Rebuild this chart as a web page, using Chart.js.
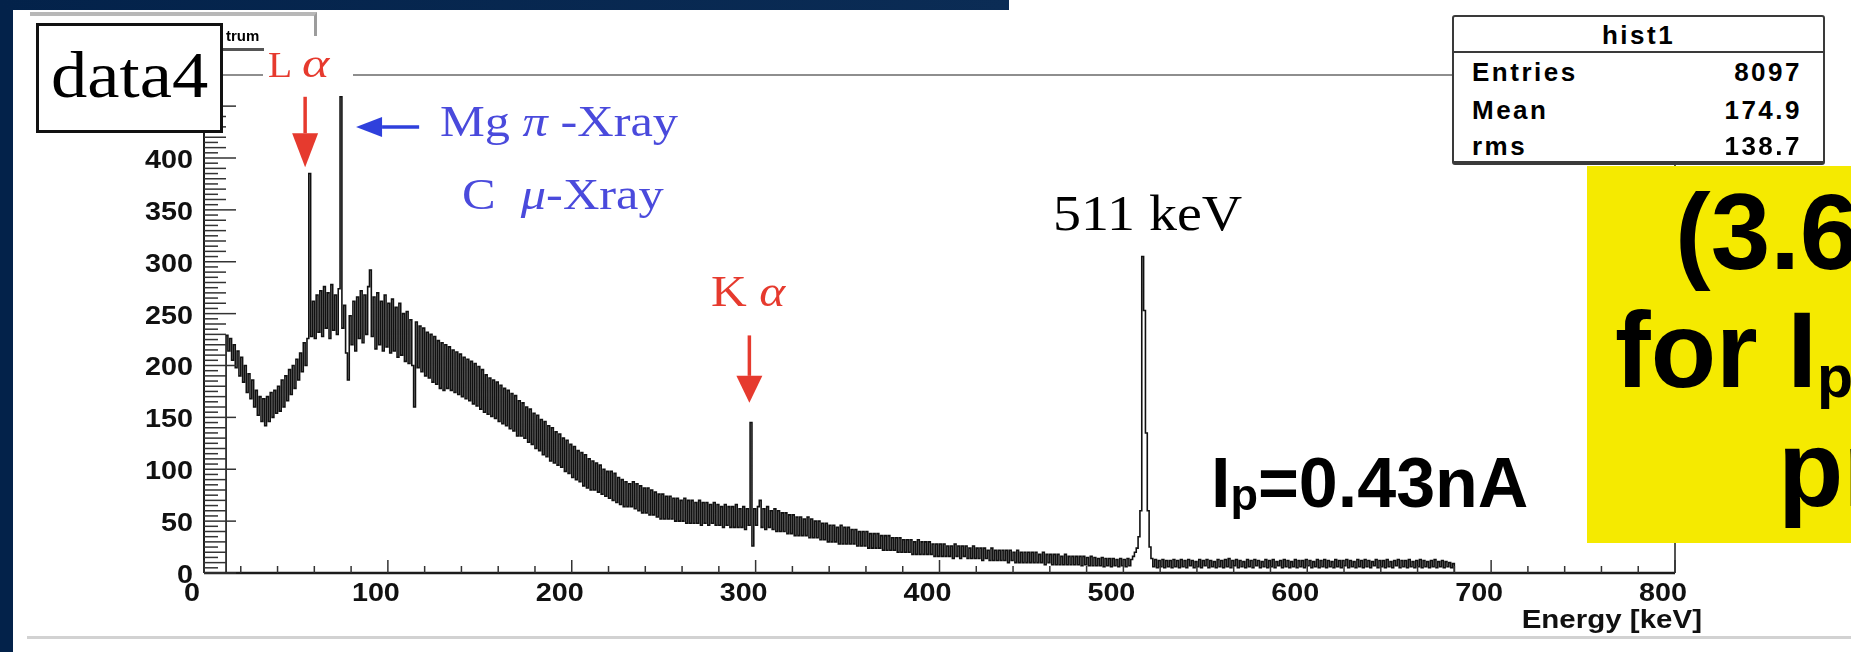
<!DOCTYPE html>
<html lang="en">
<head>
    <meta charset="UTF-8">
    <title>hist1 - Energy spectrum (data4)</title>
    <script src="https://cdn.jsdelivr.net/npm/chart.js@4.4.0/dist/chart.umd.min.js"></script>
    <style>
        body {
            margin: 0;
            width: 1851px;
            height: 652px;
            overflow: hidden;
            position: relative;
            background: #fff;
            font-family: 'Liberation Sans', Arial, sans-serif;
        }
        .navy-left { position: absolute; left: 0; top: 0; width: 13px; height: 652px; background: #03224a; }
        .navy-top { position: absolute; left: 0; top: 0; width: 1009px; height: 10px; background: linear-gradient(90deg, #03224a, #0b2c55); }
        #spectrum { position: absolute; left: 0; top: 0; }
        .ann { position: absolute; white-space: nowrap; line-height: 1; transform-origin: 0 0; }
        .serif { font-family: 'Liberation Serif', 'Times New Roman', serif; }
        .red { color: #e63a2e; }
        .blue { color: #4a4adc; }
        .bold { font-weight: bold; }
        .title-pave { position: absolute; left: 30px; top: 12px; width: 284px; height: 20px; border-top: 4px solid #b8b8b8; border-right: 3px solid #9c9c9c; }
        .data-box { position: absolute; left: 36px; top: 23px; width: 187px; height: 110px; box-sizing: border-box; border: 3px solid #111; background: #fff; }
        .stats { position: absolute; left: 1452px; top: 15px; width: 373px; height: 150px; box-sizing: border-box; border: 2px solid #3a3a3a; border-bottom-width: 4px; border-radius: 3px; background: #fff; }
        .stats .row { position: absolute; font-weight: bold; font-size: 26px; letter-spacing: 2.5px; line-height: 1; }
        .stats .divider { position: absolute; left: 0; right: 0; top: 34px; height: 2px; background: #3a3a3a; }
        .yellow { position: absolute; left: 1587px; top: 166px; width: 264px; height: 377px; background: #f5ea00; }
        .big { font-weight: bold; font-size: 107px; }
        .bottom-rule { position: absolute; left: 27px; top: 636px; width: 1824px; height: 3px; background: #d2d2d2; }
    </style>
</head>
<body>
    <div class="navy-left"></div>
    <div class="navy-top"></div>
    <div class="bottom-rule"></div>

    <canvas id="spectrum" width="1851" height="652"></canvas>

    <!-- ROOT title pave, partly hidden behind the data4 label -->
    <div class="title-pave"></div>
    <div class="ann bold" style="left:226px; top:28px; font-size:15px;">trum</div>
    <div class="ann" style="left:214px; top:48px; width:50px; height:3px; background:#555;"></div>

    <div class="data-box"></div>
    <div class="ann serif" style="left:51px; top:42px; font-size:66px; transform:scaleX(1.1);">data4</div>

    <!-- slide annotations -->
    <div class="ann" style="left:263px; top:68px; width:90px; height:12px; background:#fff;"></div>
    <div class="ann serif red" style="left:268px; top:47px; font-size:36px; transform:scaleX(1.1);">L</div>
    <div class="ann serif red" style="left:302px; top:44px; font-size:40px; font-style:italic; transform:scaleX(1.3);">α</div>
    <div class="ann serif blue" style="left:440px; top:99px; font-size:45px; transform:scaleX(1.12);">Mg <i>π</i> -Xray</div>
    <div class="ann serif blue" style="left:462px; top:172px; font-size:45px; transform:scaleX(1.12);">C&nbsp;&nbsp;<i>μ</i>-Xray</div>
    <div class="ann serif" style="left:1053px; top:188px; font-size:50px; transform:scaleX(1.12);">511 keV</div>
    <div class="ann serif red" style="left:711px; top:269px; font-size:45px; transform:scaleX(1.1);">K <i>α</i></div>
    <div class="ann bold" style="left:1211px; top:448px; font-size:70px;">I<span style="font-size:45px; position:relative; top:3px;">p</span>=0.43nA</div>

    <div class="stats">
        <div class="row" style="left:0; right:0; top:5px; text-align:center;">hist1</div>
        <div class="divider"></div>
        <div class="row" style="left:18px; top:42px;">Entries</div>
        <div class="row" style="right:21px; top:42px;">8097</div>
        <div class="row" style="left:18px; top:80px;">Mean</div>
        <div class="row" style="right:21px; top:80px;">174.9</div>
        <div class="row" style="left:18px; top:116px;">rms</div>
        <div class="row" style="right:21px; top:116px;">138.7</div>
    </div>

    <div class="yellow"></div>
    <div class="ann big" style="left:1675px; top:179px;">(3.6</div>
    <div class="ann big" style="left:1615px; top:297px;">for I<span style="font-size:59px; position:relative; top:10px;">p</span></div>
    <div class="ann big" style="left:1778px; top:416px;">pr</div>

    <script>
        // Histogram binning (keV)
        const energyBinLow = 12;
        const energyBinWidth = 1;

        // Counts per 1 keV bin, bins 12 .. 679 keV
        const counts = [
            229, 214, 226, 205, 220, 198, 214, 190, 208, 184, 200, 174, 192, 168, 186, 160, 176, 152, 170, 146,   // 12-31
            168, 142, 170, 146, 174, 150, 176, 154, 180, 156, 186, 160, 190, 166, 196, 172, 200, 178, 206, 186,   // 32-51
            212, 194, 222, 200, 226, 385, 228, 262, 226, 268, 232, 272, 228, 276, 236, 270, 226, 278, 234, 268,   // 52-71 (L alpha)
            230, 274, 459, 236, 258, 212, 186, 248, 220, 262, 214, 266, 226, 272, 222, 268, 230, 276, 292, 228,   // 72-91 (Mg pi / C mu)
            266, 216, 270, 220, 262, 214, 268, 218, 260, 212, 264, 214, 256, 208, 260, 210, 250, 204, 252, 202,   // 92-111
            244, 200, 160, 242, 198, 238, 194, 236, 190, 232, 188, 230, 184, 228, 182, 224, 178, 222, 176, 220,   // 112-131
            178, 218, 176, 215, 174, 213, 172, 211, 170, 208, 168, 206, 166, 204, 163, 202, 161, 199, 158, 196,   // 132-151
            155, 191, 153, 188, 151, 186, 149, 184, 146, 181, 144, 178, 142, 176, 139, 173, 137, 171, 132, 166,   // 152-171
            132, 164, 130, 160, 126, 158, 124, 154, 120, 152, 118, 148, 114, 146, 112, 142, 108, 140, 106, 136,   // 172-191
            104, 134, 102, 130, 98, 128, 96, 124, 92, 122, 90, 118, 88, 116, 84, 114, 82, 110, 80, 108,           // 192-211
            80, 106, 78, 104, 76, 100, 74, 98, 72, 98, 70, 96, 68, 92, 66, 90, 64, 88, 64, 86,                    // 212-231
            64, 88, 62, 86, 60, 84, 58, 82, 58, 82, 56, 80, 56, 78, 54, 76, 52, 76, 52, 74,                       // 232-251
            52, 74, 52, 72, 50, 72, 50, 70, 50, 72, 48, 70, 48, 70, 48, 68, 48, 70, 46, 68,                       // 252-271
            48, 68, 46, 66, 48, 68, 46, 66, 46, 64, 44, 66, 46, 64, 44, 64, 44, 66, 44, 62,                       // 272-291
            44, 64, 42, 62, 46, 145, 26, 62, 46, 64, 70, 44, 62, 42, 64, 44, 60, 42, 62, 40,                      // 292-311 (K alpha)
            60, 40, 58, 40, 58, 38, 56, 38, 56, 36, 54, 36, 54, 36, 52, 36, 54, 34, 52, 34,                       // 312-331
            50, 34, 50, 32, 48, 32, 48, 30, 46, 30, 46, 30, 44, 28, 46, 28, 44, 28, 44, 28,                       // 332-351
            42, 28, 42, 26, 40, 26, 40, 26, 40, 24, 38, 24, 38, 24, 38, 24, 36, 22, 36, 22,                       // 352-371
            36, 22, 34, 22, 34, 20, 34, 20, 32, 20, 32, 20, 32, 18, 30, 18, 32, 18, 30, 18,                       // 372-391
            30, 18, 30, 18, 28, 16, 28, 16, 28, 16, 28, 16, 26, 16, 26, 14, 28, 16, 26, 14,                       // 392-411
            26, 16, 26, 14, 24, 14, 26, 14, 24, 14, 24, 12, 24, 14, 22, 12, 24, 12, 22, 12,                       // 412-431
            22, 12, 22, 12, 22, 10, 22, 12, 20, 10, 22, 10, 20, 10, 20, 10, 20, 10, 20, 10,                       // 432-451
            20, 10, 18, 10, 20, 8, 18, 10, 18, 8, 18, 8, 18, 8, 16, 8, 18, 8, 16, 8,                              // 452-471
            16, 8, 16, 8, 16, 7, 16, 8, 15, 7, 16, 7, 15, 7, 14, 7, 15, 6, 14, 7,                                 // 472-491
            14, 6, 14, 7, 13, 6, 14, 7, 13, 6, 14, 7, 13, 16, 20, 24, 35, 60, 305, 253,                           // 492-511 (511 keV)
            135, 60, 25, 14, 6, 13, 5, 12, 6, 13, 5, 12, 6, 12, 5, 13, 6, 12, 5, 13,                              // 512-531
            6, 12, 5, 13, 7, 12, 5, 11, 6, 13, 5, 12, 7, 13, 5, 12, 6, 11, 5, 13,                                 // 532-551
            6, 12, 5, 13, 6, 14, 5, 12, 7, 13, 5, 12, 6, 11, 5, 13, 6, 12, 5, 13,                                 // 552-571
            7, 12, 5, 11, 6, 13, 5, 12, 6, 13, 5, 11, 7, 12, 5, 13, 6, 12, 5, 11,                                 // 572-591
            6, 13, 5, 12, 6, 12, 5, 13, 7, 12, 5, 11, 6, 13, 5, 12, 6, 13, 5, 12,                                 // 592-611
            6, 11, 5, 13, 6, 12, 5, 12, 7, 13, 5, 12, 6, 11, 5, 13, 6, 12, 5, 13,                                 // 612-631
            6, 12, 5, 11, 7, 13, 5, 12, 6, 12, 5, 13, 6, 11, 5, 12, 7, 13, 5, 12,                                 // 632-651
            6, 12, 5, 13, 6, 11, 5, 12, 6, 13, 5, 12, 6, 11, 5, 12, 6, 13, 5, 11,                                 // 652-671
            6, 12, 5, 11, 6, 10, 5, 9                                                                             // 672-679
        ];

        // Axis tick labels
        const xTickLabels = [0, 100, 200, 300, 400, 500, 600, 700, 800];
        const yTickLabels = [0, 50, 100, 150, 200, 250, 300, 350, 400];

        // histogram outline as step points at the low edge of each bin
        const histPoints = [{ x: 0, y: 0 }];
        counts.forEach((c, i) => histPoints.push({ x: energyBinLow + i * energyBinWidth, y: c }));
        histPoints.push({ x: energyBinLow + counts.length * energyBinWidth, y: 0 });
        histPoints.push({ x: 800, y: 0 });

        function stretchedText(ctx, text, px, py, align, sx) {
            ctx.save();
            ctx.translate(px, py);
            ctx.scale(sx, 1);
            ctx.textAlign = align;
            ctx.fillText(text, 0, 0);
            ctx.restore();
        }

        function arrow(ctx, x0, y0, x1, y1, color, headLen, headHalf) {
            const ang = Math.atan2(y1 - y0, x1 - x0);
            const bx = x1 - headLen * Math.cos(ang);
            const by = y1 - headLen * Math.sin(ang);
            ctx.strokeStyle = color;
            ctx.fillStyle = color;
            ctx.lineWidth = 3.5;
            ctx.beginPath();
            ctx.moveTo(x0, y0);
            ctx.lineTo(bx, by);
            ctx.stroke();
            ctx.beginPath();
            ctx.moveTo(x1, y1);
            ctx.lineTo(bx + headHalf * Math.sin(ang), by - headHalf * Math.cos(ang));
            ctx.lineTo(bx - headHalf * Math.sin(ang), by + headHalf * Math.cos(ang));
            ctx.closePath();
            ctx.fill();
        }

        // ROOT style frame: ticks inside, labels outside
        const rootAxes = {
            id: 'rootAxes',
            afterDraw(chart) {
                const { ctx, chartArea: a, scales: { x, y } } = chart;
                ctx.save();

                // top / right frame in grey
                ctx.strokeStyle = '#8e8e8e';
                ctx.lineWidth = 2;
                ctx.beginPath();
                ctx.moveTo(a.left, a.top);
                ctx.lineTo(a.right, a.top);
                ctx.stroke();
                ctx.strokeStyle = '#555';
                ctx.beginPath();
                ctx.moveTo(a.right, a.top);
                ctx.lineTo(a.right, a.bottom);
                ctx.stroke();

                // axes
                ctx.strokeStyle = '#1c1c1c';
                ctx.lineWidth = 2.5;
                ctx.beginPath();
                ctx.moveTo(a.left, a.bottom);
                ctx.lineTo(a.right, a.bottom);
                ctx.stroke();
                ctx.lineWidth = 2;
                ctx.beginPath();
                ctx.moveTo(a.left, a.top);
                ctx.lineTo(a.left, a.bottom);
                ctx.stroke();

                // x ticks (every 20 keV, long at 100)
                ctx.lineWidth = 1.5;
                ctx.strokeStyle = '#333';
                for (let v = 0; v <= 800; v += 20) {
                    const px = x.getPixelForValue(v);
                    const len = v % 100 === 0 ? 13 : 7;
                    ctx.beginPath();
                    ctx.moveTo(px, a.bottom);
                    ctx.lineTo(px, a.bottom - len);
                    ctx.stroke();
                }
                // y ticks (every 5, long at 50)
                for (let v = 0; v <= 450; v += 5) {
                    const py = y.getPixelForValue(v);
                    const len = v % 50 === 0 ? 32 : (v % 10 === 0 ? 22 : 14);
                    ctx.beginPath();
                    ctx.moveTo(a.left, py);
                    ctx.lineTo(a.left + len, py);
                    ctx.stroke();
                }

                // labels
                ctx.fillStyle = '#111';
                ctx.font = 'bold 25px "Liberation Sans", Arial, sans-serif';
                ctx.textBaseline = 'middle';
                yTickLabels.forEach(v => {
                    stretchedText(ctx, String(v), a.left - 11, y.getPixelForValue(v) + 3, 'right', 1.15);
                });
                xTickLabels.forEach(v => {
                    stretchedText(ctx, String(v), x.getPixelForValue(v) - 12, a.bottom + 21, 'center', 1.15);
                });
                ctx.textBaseline = 'alphabetic';
                stretchedText(ctx, 'Energy [keV]', 1702, a.bottom + 55, 'right', 1.18);

                // peak markers
                arrow(ctx, x.getPixelForValue(55), y.getPixelForValue(459), x.getPixelForValue(55), y.getPixelForValue(391), '#e63a2e', 34, 13);
                arrow(ctx, x.getPixelForValue(296.6), y.getPixelForValue(229), x.getPixelForValue(296.6), y.getPixelForValue(164), '#e63a2e', 27, 13);
                arrow(ctx, x.getPixelForValue(117), y.getPixelForValue(430), x.getPixelForValue(82.7), y.getPixelForValue(430), '#2f40dc', 26, 10);

                ctx.restore();
            }
        };

        const ctx = document.getElementById('spectrum').getContext('2d');
        new Chart(ctx, {
            type: 'line',
            data: {
                datasets: [{
                    label: 'hist1',
                    data: histPoints,
                    borderColor: '#111',
                    borderWidth: 1.6,
                    pointRadius: 0,
                    stepped: true,
                    fill: false,
                    tension: 0
                }]
            },
            options: {
                responsive: false,
                animation: false,
                layout: { padding: { left: 204, right: 176, top: 75, bottom: 79 } },
                scales: {
                    x: { type: 'linear', min: 0, max: 800, display: false },
                    y: { type: 'linear', min: 0, max: 480, display: false }
                },
                plugins: {
                    legend: { display: false },
                    tooltip: { enabled: false }
                }
            },
            plugins: [rootAxes]
        });
    </script>
</body>
</html>
